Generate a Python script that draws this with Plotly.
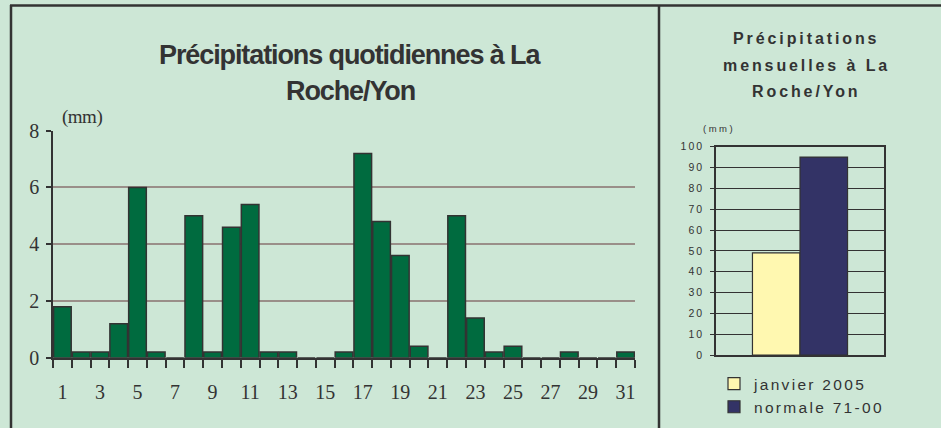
import plotly.graph_objects as go

# ---- data ----
days = list(range(1, 32))
daily_mm = [1.8, 0.2, 0.2, 1.2, 6.0, 0.2, 0.0, 5.0, 0.2, 4.6,
            5.4, 0.2, 0.2, 0.0, 0.0, 0.2, 7.2, 4.8, 3.6, 0.4,
            0.0, 5.0, 1.4, 0.2, 0.4, 0.0, 0.0, 0.2, 0.0, 0.0, 0.2]
day_ticks = list(range(1, 32, 2))
left_yticks = [0, 2, 4, 6, 8]

monthly_labels = ["janvier 2005", "normale 71-00"]
monthly_mm = [49, 95]
right_yticks = list(range(0, 101, 10))

BG = "#cde7d6"
DARK = "#333333"
W, H = 941, 428


def px_x(x):
    return x / W


def px_y(y):
    return 1 - y / H


def spaced(t, ls):
    return f"<span style='letter-spacing:{ls}px'>{t}</span>"


fig = go.Figure()

fig.add_trace(go.Bar(
    x=days, y=daily_mm, width=0.94,
    marker=dict(color="#006b3f", line=dict(color=DARK, width=1.5)),
    xaxis="x", yaxis="y", showlegend=False,
))

colors = ["#fff8b0", "#333366"]
offsets = [-0.283, 0.0]
for lab, val, col, off in zip(monthly_labels, monthly_mm, colors, offsets):
    fig.add_trace(go.Bar(
        x=[0], y=[val], width=0.283, offset=off,
        name=spaced(lab, 2.3),
        marker=dict(color=col, line=dict(color=DARK, width=1.2)),
        xaxis="x2", yaxis="y2",
    ))

fig.update_layout(
    width=W, height=H,
    paper_bgcolor=BG, plot_bgcolor=BG,
    margin=dict(l=0, r=0, t=0, b=0, autoexpand=False),
    barmode="overlay",
    xaxis=dict(
        domain=[px_x(53), px_x(635)], range=[0.5, 31.5],
        tickmode="array", tickvals=day_ticks, ticktext=[str(d) for d in day_ticks],
        ticks="", ticklabelstandoff=15,
        minor=dict(tick0=0.5, dtick=1, ticks="outside", ticklen=8, tickcolor=DARK, tickwidth=1.5),
        showline=True, linecolor=DARK, linewidth=2, showgrid=False, zeroline=False,
        tickfont=dict(family="Liberation Serif", size=20, color=DARK),
        anchor="y", fixedrange=True,
    ),
    yaxis=dict(
        domain=[px_y(357.7), px_y(130.7)], range=[0, 8],
        tickmode="array", tickvals=left_yticks,
        ticks="outside", ticklen=5, tickcolor=DARK, tickwidth=1.5,
        ticklabelstandoff=3,
        showline=True, linecolor=DARK, linewidth=1.5,
        showgrid=True, gridcolor="#9a8f89", gridwidth=1.5, zeroline=False,
        tickfont=dict(family="Liberation Serif", size=20, color=DARK),
        anchor="x",
    ),
    xaxis2=dict(
        domain=[px_x(716), px_x(884)], range=[-0.5, 0.5],
        showticklabels=False, ticks="", showgrid=False, zeroline=False,
        showline=True, mirror=True, linecolor=DARK, linewidth=1.5,
        anchor="y2",
    ),
    yaxis2=dict(
        domain=[px_y(355), px_y(146.7)], range=[0, 100],
        tickmode="array", tickvals=right_yticks,
        ticktext=[spaced(str(v), 2) for v in right_yticks],
        ticks="outside", ticklen=4, tickcolor=DARK, tickwidth=1.2,
        ticklabelstandoff=4,
        showline=True, mirror=True, linecolor=DARK, linewidth=1.5,
        showgrid=True, gridcolor=DARK, gridwidth=1.2, zeroline=False,
        tickfont=dict(family="Liberation Sans", size=10.5, color=DARK),
        anchor="x2",
    ),
    legend=dict(
        x=px_x(714), y=px_y(367), xanchor="left", yanchor="top",
        bgcolor="rgba(0,0,0,0)", font=dict(family="Liberation Sans", size=15.5, color=DARK),
        tracegroupgap=0,
    ),
    showlegend=True,
)

annots = [
    ("<b>" + spaced("Précipitations quotidiennes à La", -1.1) + "</b>", 350, 54.5, "Liberation Sans", 27),
    ("<b>" + spaced("Roche/Yon", -1.1) + "</b>", 350, 90.5, "Liberation Sans", 27),
    (spaced("(mm)", -0.5), 82, 117, "Liberation Serif", 19),
    ("<b>" + spaced("Précipitations", 2.9) + "</b>", 806, 38.5, "Liberation Sans", 16),
    ("<b>" + spaced("mensuelles à La", 2.9) + "</b>", 806, 65.5, "Liberation Sans", 16),
    ("<b>" + spaced("Roche/Yon", 2.9) + "</b>", 806, 91.5, "Liberation Sans", 16),
    (spaced("(mm)", 2.5), 719, 128.5, "Liberation Sans", 9.5),
]
for text, x, y, fam, size in annots:
    fig.add_annotation(xref="paper", yref="paper", showarrow=False,
                       xanchor="center", yanchor="middle",
                       x=px_x(x), y=px_y(y), text=text,
                       font=dict(family=fam, size=size, color=DARK))

# frame lines
fig.add_shape(type="line", xref="paper", yref="paper", x0=px_x(10), x1=1, y0=px_y(5.5), y1=px_y(5.5),
              line=dict(color=DARK, width=2.5))
fig.add_shape(type="line", xref="paper", yref="paper", x0=px_x(11), x1=px_x(11), y0=px_y(5), y1=0,
              line=dict(color=DARK, width=2.5))
fig.add_shape(type="line", xref="paper", yref="paper", x0=px_x(659), x1=px_x(659), y0=px_y(5), y1=0,
              line=dict(color=DARK, width=2.5))

fig.write_html(
    "out.html",
    config={"displayModeBar": False},
    post_script="document.body.style.margin='0';document.body.style.padding='0';"
                "document.body.style.overflow='hidden';document.body.style.background='" + BG + "';",
)
